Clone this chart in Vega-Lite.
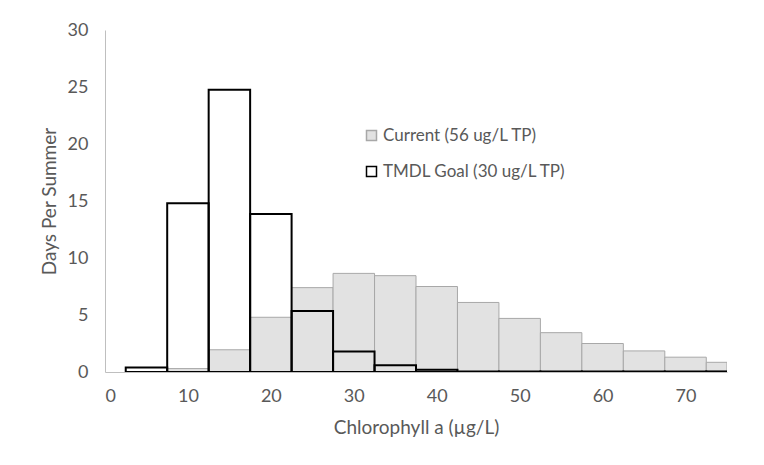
{
  "$schema": "https://vega.github.io/schema/vega-lite/v6.json",
  "width": 622,
  "height": 342,
  "autosize": {"type": "none"},
  "padding": {"left": 105, "top": 30, "right": 37, "bottom": 93},
  "background": "white",
  "config": {"view": {"stroke": null}, "font": "Lato"},
  "data": {
    "values": [
      {"series": "Current (56 ug/L TP)", "start": 7.5, "end": 12.5, "days": 0.3},
      {"series": "Current (56 ug/L TP)", "start": 12.5, "end": 17.5, "days": 1.95},
      {"series": "Current (56 ug/L TP)", "start": 17.5, "end": 22.5, "days": 4.8},
      {"series": "Current (56 ug/L TP)", "start": 22.5, "end": 27.5, "days": 7.4},
      {"series": "Current (56 ug/L TP)", "start": 27.5, "end": 32.5, "days": 8.65},
      {"series": "Current (56 ug/L TP)", "start": 32.5, "end": 37.5, "days": 8.45},
      {"series": "Current (56 ug/L TP)", "start": 37.5, "end": 42.5, "days": 7.5},
      {"series": "Current (56 ug/L TP)", "start": 42.5, "end": 47.5, "days": 6.1},
      {"series": "Current (56 ug/L TP)", "start": 47.5, "end": 52.5, "days": 4.7},
      {"series": "Current (56 ug/L TP)", "start": 52.5, "end": 57.5, "days": 3.45},
      {"series": "Current (56 ug/L TP)", "start": 57.5, "end": 62.5, "days": 2.5},
      {"series": "Current (56 ug/L TP)", "start": 62.5, "end": 67.5, "days": 1.85},
      {"series": "Current (56 ug/L TP)", "start": 67.5, "end": 72.5, "days": 1.3},
      {"series": "Current (56 ug/L TP)", "start": 72.5, "end": 75, "days": 0.85},
      {"series": "TMDL Goal (30 ug/L TP)", "start": 2.5, "end": 7.5, "days": 0.4},
      {"series": "TMDL Goal (30 ug/L TP)", "start": 7.5, "end": 12.5, "days": 14.8},
      {"series": "TMDL Goal (30 ug/L TP)", "start": 12.5, "end": 17.5, "days": 24.75},
      {"series": "TMDL Goal (30 ug/L TP)", "start": 17.5, "end": 22.5, "days": 13.85},
      {"series": "TMDL Goal (30 ug/L TP)", "start": 22.5, "end": 27.5, "days": 5.35},
      {"series": "TMDL Goal (30 ug/L TP)", "start": 27.5, "end": 32.5, "days": 1.8},
      {"series": "TMDL Goal (30 ug/L TP)", "start": 32.5, "end": 37.5, "days": 0.6},
      {"series": "TMDL Goal (30 ug/L TP)", "start": 37.5, "end": 42.5, "days": 0.2},
      {"series": "TMDL Goal (30 ug/L TP)", "start": 42.5, "end": 47.5, "days": 0.05},
      {"series": "TMDL Goal (30 ug/L TP)", "start": 47.5, "end": 52.5, "days": 0.05},
      {"series": "TMDL Goal (30 ug/L TP)", "start": 52.5, "end": 57.5, "days": 0.05},
      {"series": "TMDL Goal (30 ug/L TP)", "start": 57.5, "end": 62.5, "days": 0.05},
      {"series": "TMDL Goal (30 ug/L TP)", "start": 62.5, "end": 67.5, "days": 0.05},
      {"series": "TMDL Goal (30 ug/L TP)", "start": 67.5, "end": 72.5, "days": 0.05},
      {"series": "TMDL Goal (30 ug/L TP)", "start": 72.5, "end": 75, "days": 0.05}
    ]
  },
  "mark": {"type": "bar", "clip": true},
  "encoding": {
    "x": {
      "field": "start",
      "type": "quantitative",
      "scale": {"domain": [0, 75], "nice": false, "zero": false},
      "axis": {
        "values": [0, 10, 20, 30, 40, 50, 60, 70],
        "grid": false,
        "ticks": false,
        "domain": true,
        "domainColor": "#bfbfbf",
        "labelPadding": 15,
        "labelFontSize": 18,
        "labelColor": "#595959",
        "title": "Chlorophyll a (µg/L)",
        "titleFontSize": 19,
        "titleFontWeight": "normal",
        "titleColor": "#595959",
        "titlePadding": 13
      }
    },
    "x2": {"field": "end"},
    "y": {
      "field": "days",
      "type": "quantitative",
      "scale": {"domain": [0, 30], "nice": false},
      "axis": {
        "values": [0, 5, 10, 15, 20, 25, 30],
        "grid": false,
        "ticks": false,
        "domainColor": "#bfbfbf",
        "labelPadding": 17,
        "labelFontSize": 18,
        "labelColor": "#595959",
        "title": "Days Per Summer",
        "titleFontSize": 19,
        "titleFontWeight": "normal",
        "titleColor": "#595959",
        "titlePadding": 8
      }
    },
    "y2": {"datum": 0},
    "fill": {
      "field": "series",
      "type": "nominal",
      "scale": {"domain": ["Current (56 ug/L TP)", "TMDL Goal (30 ug/L TP)"], "range": ["#e2e2e2", "transparent"]},
      "legend": {
        "orient": "none",
        "legendX": 258,
        "legendY": 97,
        "title": null,
        "symbolType": "square",
        "symbolSize": 100,
        "symbolStrokeWidth": 1.5,
        "labelFontSize": 17,
        "labelColor": "#595959",
        "labelLimit": 400,
        "rowPadding": 18,
        "labelOffset": 3
      }
    },
    "stroke": {
      "field": "series",
      "type": "nominal",
      "scale": {"domain": ["Current (56 ug/L TP)", "TMDL Goal (30 ug/L TP)"], "range": ["#a8a8a8", "#000000"]}
    },
    "strokeWidth": {
      "condition": {"test": "datum.series === 'TMDL Goal (30 ug/L TP)'", "value": 2},
      "value": 1
    }
  }
}
